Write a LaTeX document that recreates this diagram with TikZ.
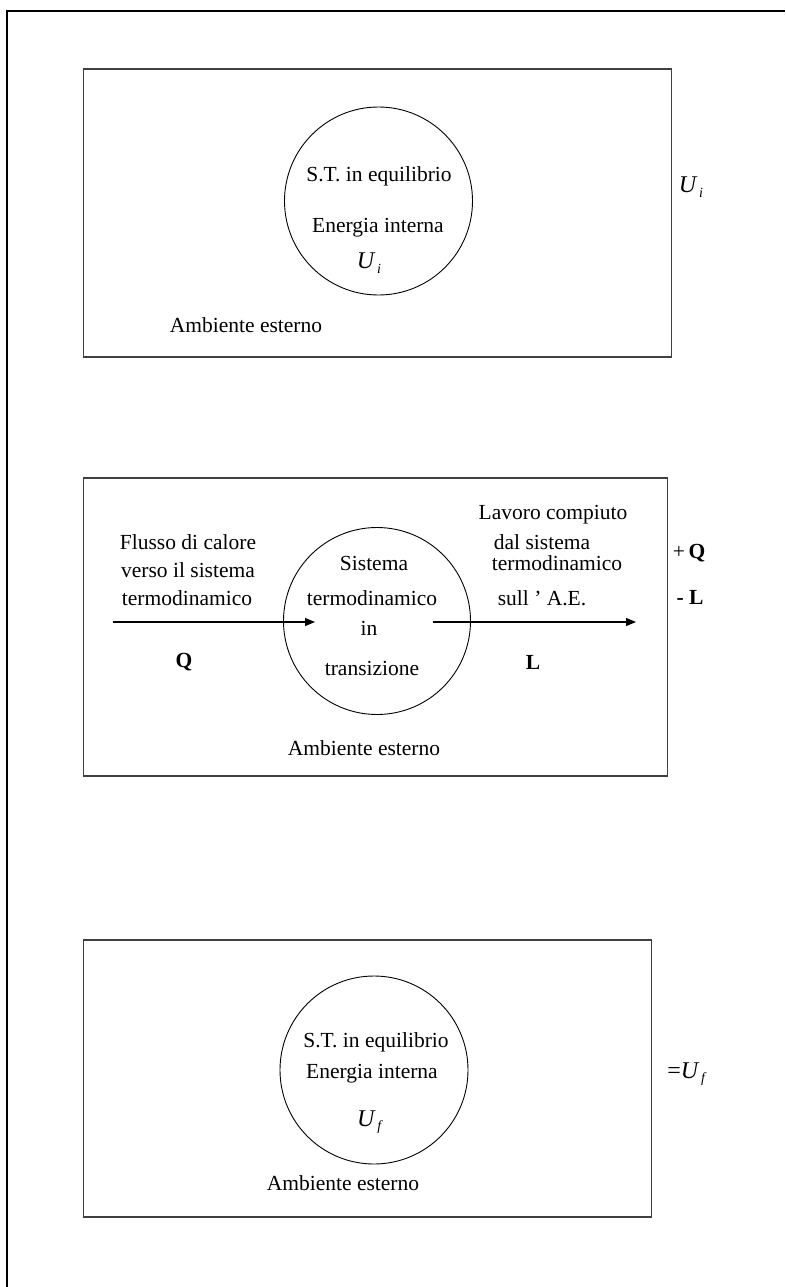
\documentclass[tikz,border=0pt]{standalone}
\usepackage{fontspec}
\setmainfont{Liberation Serif}
\usetikzlibrary{shapes.geometric,arrows.meta}
% internal energy symbol: italic U with a small italic index
\newcommand{\symU}[1]{\textit{U}\kern1.5pt\raisebox{-0.4ex}{\fontsize{14}{14}\selectfont\textit{#1}}}
\begin{document}
\begin{tikzpicture}[x=1pt,y=-1pt,
  panel/.style={draw=black!75, line width=1.3pt, inner sep=0pt},
  system/.style={draw=black, line width=0.9pt, circle, inner sep=0pt, minimum size=188pt},
  lbl/.style={font=\fontsize{21.5}{25}\selectfont, inner sep=0pt, align=center},
  qty/.style={font=\fontsize{24}{26}\selectfont, inner sep=0pt},
  bold/.style={font=\fontsize{21.5}{25}\selectfont\bfseries, inner sep=0pt},
  flow/.style={line width=1.1pt, -{Triangle[length=10pt,width=8pt]}}]
\useasboundingbox (0,0) rectangle (785,1287);
% page frame (top and left edges)
\draw[line width=2.6pt] (7,1287) -- (7,11) -- (785,11);

% --- initial state ---
\node (box1) [panel, minimum width=588pt, minimum height=288pt] at (377.5,213) {};
\node (sys1) [system] at (378.5,201) {};
\node (eq1) [lbl] at (379,176) {S.T. in equilibrio};
\node (en1) [lbl] at (378,228) {Energia interna};
\node (ui1) [qty] at (369,263) {\symU{i}};
\node (ui2) [qty] at (691,187) {\symU{i}};
\node (amb1) [lbl] at (246,325) {Ambiente esterno};

% --- transformation ---
\node (box2) [panel, minimum width=584pt, minimum height=298pt] at (375.5,627) {};
\node (sys2) [system, minimum size=187pt] at (377,621) {};
\node (fl1) [lbl] at (188,542) {Flusso di calore};
\node (fl2) [lbl] at (188,570) {verso il sistema};
\node (fl3) [lbl] at (187,598) {termodinamico};
\node (st1) [lbl] at (374,563) {Sistema};
\node (st2) [lbl] at (372,598) {termodinamico};
\node (st3) [lbl] at (369,628) {in};
\node (st4) [lbl] at (372,668) {transizione};
\node (lw1) [lbl] at (553,515) {Lavoro compiuto};
\node (lw2) [lbl] at (542,542) {dal sistema};
\node (lw3) [lbl] at (557,563) {termodinamico};
\node (lw4) [lbl] at (542,598) {sull ' A.E.};
\node (qq) [bold] at (184,662) {Q};
\node (ll) [bold] at (533,662) {L};
\node (pq) [bold] at (689,553) {\normalfont+\,\bfseries Q};
\node (ml) [bold] at (690,597) {- L};
\node (amb2) [lbl] at (364,748) {Ambiente esterno};
\coordinate (qin) at (113,622);
\coordinate (qend) at (315,622);
\coordinate (lout) at (433,622);
\coordinate (lend) at (636,622);
\draw[flow] (qin) -- (qend);
\draw[flow] (lout) -- (lend);

% --- final state ---
\node (box3) [panel, minimum width=568pt, minimum height=277pt] at (367.5,1078.5) {};
\node (sys3) [system] at (374,1070) {};
\node (eq3) [lbl] at (376,1042) {S.T. in equilibrio};
\node (en3) [lbl] at (372,1074) {Energia interna};
\node (uf1) [qty] at (370,1122) {\symU{f}};
\node (uf2) [qty] at (687,1074) {\normalfont=\symU{f}};
\node (amb3) [lbl] at (343,1183) {Ambiente esterno};
\end{tikzpicture}
\end{document}
